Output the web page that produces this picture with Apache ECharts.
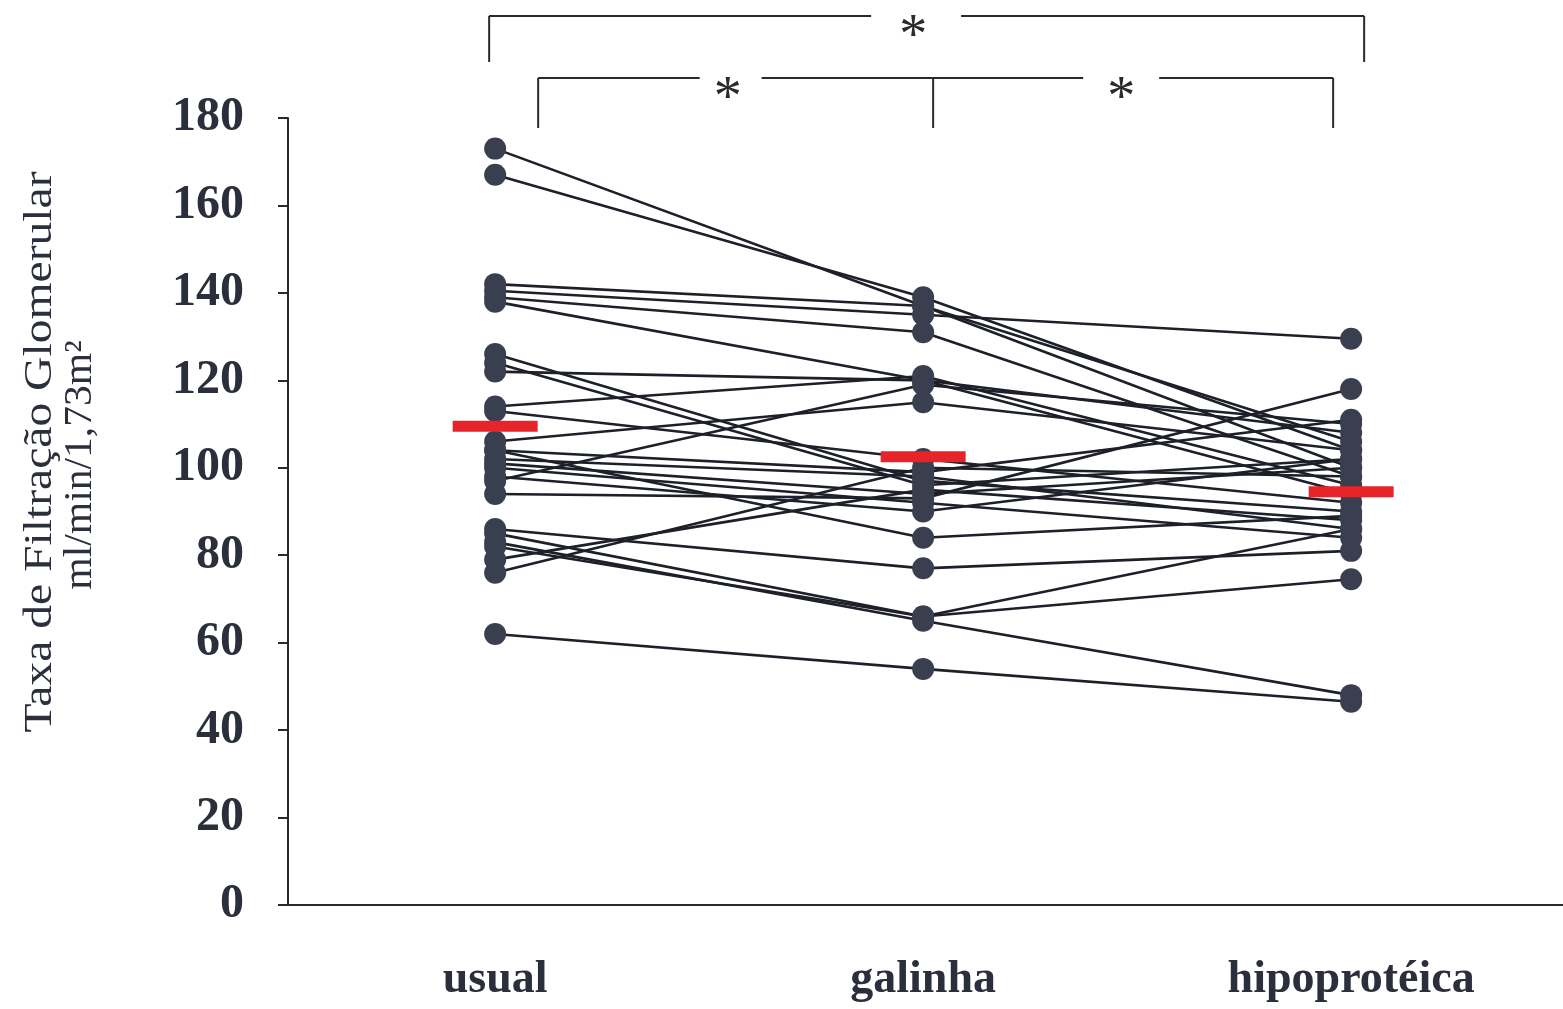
<!DOCTYPE html>
<html>
<head>
<meta charset="utf-8">
<script src="https://cdn.jsdelivr.net/npm/echarts@6/dist/echarts.min.js"></script>
<style>
html,body{margin:0;padding:0;background:#fff;}
#c{width:1563px;height:1009px;}
</style>
</head>
<body>
<div id="c"></div>
<script>
// ---- data ----
const categories = ['usual', 'galinha', 'hipoprotéica'];
const yTicks = [0, 20, 40, 60, 80, 100, 120, 140, 160, 180];
// one entry per subject, same order in every array
const usual        = [173, 167, 142, 140.5, 139, 138, 126, 124, 122, 114, 113, 106, 104, 102, 101, 100, 97, 94, 86, 85, 83, 79, 76, 62, 104, 98, 82];
const galinha      = [137, 139, 137, 135, 131, 120, 97, 96, 120, 121, 102, 115, 99, 98, 94, 92, 119, 93, 77, 66, 65, 95, 100, 54, 84, 90, 66];
const hipoproteica = [100, 104, 106, 129.5, 98, 94, 90, 102, 108, 96, 92, 104, 111, 86, 100, 84, 110, 118, 81, 74.5, 48, 88, 98, 46.5, 89, 102, 86];
const means = [109.5, 102.5, 94.5];

const groups = [usual, galinha, hipoproteica];
const series = [];
for (let i = 0; i < usual.length; i++) {
  series.push({
    type: 'line', silent: true, symbol: 'none', z: 2,
    lineStyle: {color: '#1d2029', width: 2.6},
    data: groups.map((g, k) => [k, g[i]])
  });
}
const dots = [];
groups.forEach((g, k) => g.forEach(v => dots.push([k, v])));
series.push({
  type: 'scatter', silent: true, z: 3, symbol: 'circle', symbolSize: 22,
  itemStyle: {color: '#3a3f50', opacity: 1}, data: dots
});
series.push({
  type: 'scatter', silent: true, z: 4, symbol: 'rect', symbolSize: [85, 11],
  itemStyle: {color: '#e8242b', opacity: 1}, data: means.map((m, k) => [k, m])
});

const chart = echarts.init(document.getElementById('c'), null, {renderer: 'canvas'});
const serif = '"Liberation Serif", "Times New Roman", serif';
chart.setOption({
  animation: false,
  backgroundColor: '#fff',
  grid: {left: 288, right: 0, top: 118, bottom: 104, containLabel: false},
  xAxis: {
    type: 'value', min: -0.484, max: 2.495,
    axisLine: {show: true, onZero: false, lineStyle: {color: '#2a2a2a', width: 2}},
    axisTick: {show: false},
    splitLine: {show: false},
    axisLabel: {
      customValues: [0, 1, 2],
      formatter: v => categories[Math.round(v)] || '',
      fontFamily: serif, fontWeight: 'bold', fontSize: 46, color: '#2b2f3b', margin: 52
    }
  },
  yAxis: {
    type: 'value', min: 0, max: 180, interval: 20,
    axisLine: {show: true, onZero: false, lineStyle: {color: '#2a2a2a', width: 2}},
    axisTick: {show: true, inside: false, length: 10, lineStyle: {color: '#2a2a2a', width: 2}},
    splitLine: {show: false},
    axisLabel: {
      customValues: yTicks,
      fontFamily: serif, fontWeight: 'bold', fontSize: 48, color: '#2b2f3b', margin: 44
    }
  },
  series: series
});

// annotations: y-axis title and significance brackets
const px = k => chart.convertToPixel({gridIndex: 0}, [k, 0])[0];
const xu = px(0), xg = px(1), xh = px(2);
const lineStyle = {stroke: '#2a2a2a', lineWidth: 2};
const seg = (x1, y1, x2, y2) => ({type: 'line', silent: true, shape: {x1, y1, x2, y2}, style: lineStyle});
const star = (x, y) => ({type: 'text', silent: true, x, y, style: {text: '*', font: '56px ' + serif, fill: '#2a2a2a', align: 'center', verticalAlign: 'middle'}});
const topY = 16, topDrop = 62, midY = 78, midDrop = 128;
const tL = xu - 6, tR = xh + 13, tStar = xg - 10;
const mL = xu + 43, mM = xg + 10, mR = xh - 18;
const s1 = (mL + mM) / 2 - 8, s2 = (mM + mR) / 2 - 12;
const titleText = (text, x, y, sx) => ({
  type: 'text', silent: true, x, y, rotation: Math.PI / 2, scaleX: sx,
  style: {text, font: '40px ' + serif, fill: '#2b2f3b', align: 'center', verticalAlign: 'middle'}
});
chart.setOption({
  graphic: [
    seg(tL, topY, tL, topDrop), seg(tR, topY, tR, topDrop),
    seg(tL, topY, tStar - 42, topY), seg(tStar + 48, topY, tR, topY),
    star(tStar, topY + 22),
    seg(mL, midY, mL, midDrop), seg(mM, midY, mM, midDrop), seg(mR, midY, mR, midDrop),
    seg(mL, midY, s1 - 28, midY), seg(s1 + 34, midY, s2 - 38, midY), seg(s2 + 38, midY, mR, midY),
    star(s1, midY + 22), star(s2, midY + 22),
    titleText('Taxa de Filtração Glomerular', 40, 452, 1.19),
    titleText('ml/min/1,73m²', 80, 465, 1.04)
  ]
});
</script>
</body>
</html>
